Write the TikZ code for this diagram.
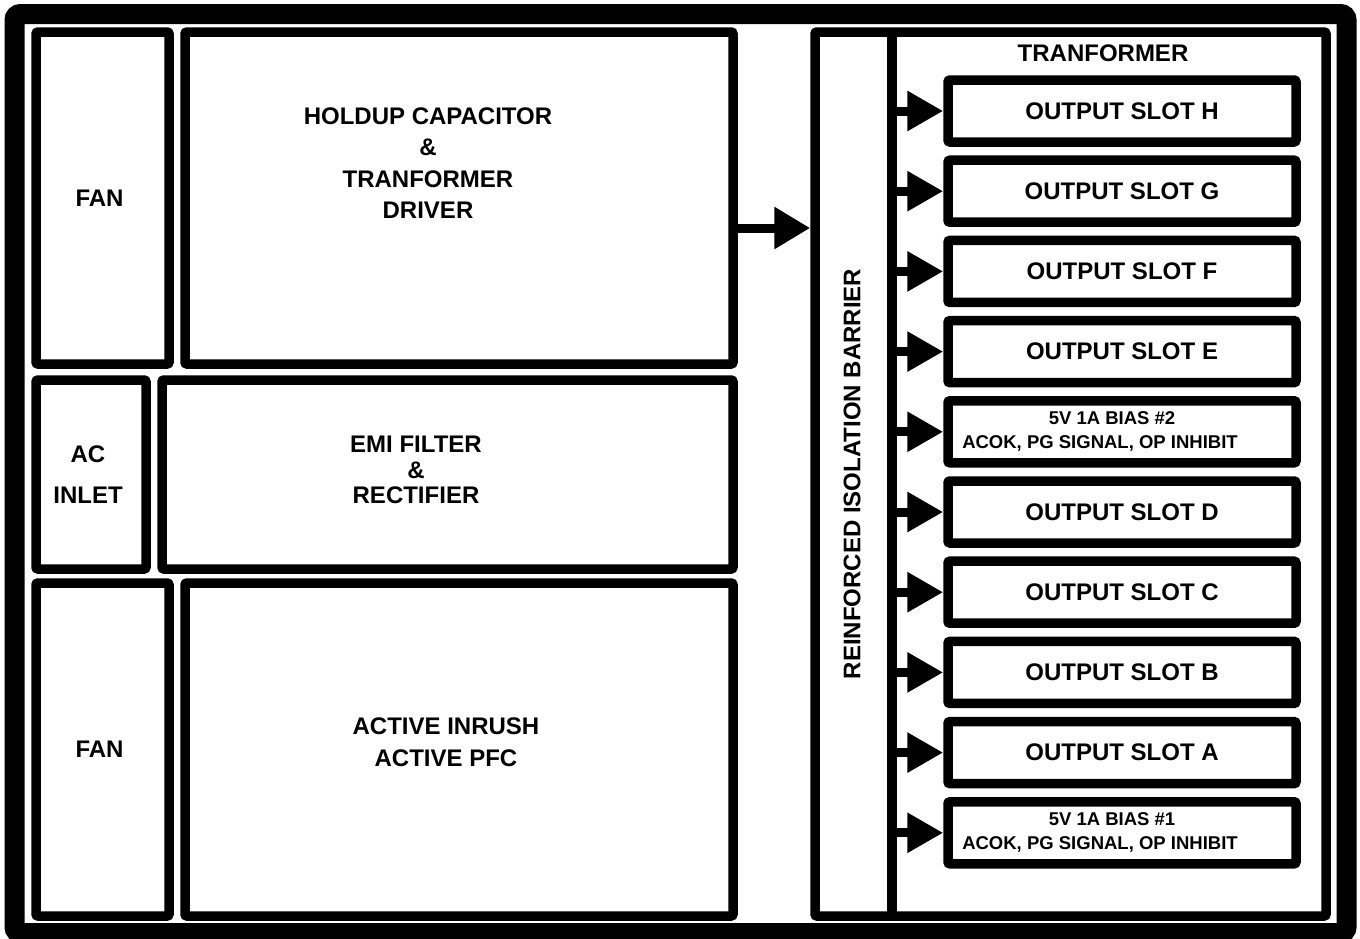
\documentclass[tikz,border=0pt]{standalone}
\usepackage{fontspec}
\setmainfont{Liberation Sans}
\usetikzlibrary{positioning}
\usetikzlibrary{arrows.meta}

\begin{document}
\begin{tikzpicture}[x=1pt,y=-1pt,
  blk/.style={draw,line width=9.5pt,rounded corners=2pt,inner sep=0pt,align=center},
  lbl/.style={align=center,font=\fontsize{24}{31.5}\selectfont\bfseries},
  smalllbl/.style={align=center,font=\fontsize{18.5}{24}\selectfont\bfseries},
  feedarrow/.style={line width=9pt,-{Triangle[length=36pt,width=38pt]}}]
  \useasboundingbox (0,0) rectangle (1360,938);
  \newcommand\drawblock[6]{\node[blk,lbl,minimum width={#4-#2},minimum height={#5-#3}] (#1) at ({(#2+#4)/2},{(#3+#5)/2}) {#6};}

% outer frame
  \draw[line width=20pt,rounded corners=6pt] (14.5,14) rectangle (1346.5,933);

% primary side
  \drawblock{fantop}{36}{32}{169}{364}{FAN\hspace*{6pt}}
  \drawblock{holdup}{185}{32}{733}{364}{}
  \node[lbl] (holduptxt) at (428,163) {HOLDUP CAPACITOR\\\&\\TRANFORMER\\DRIVER};
  \drawblock{acin}{36}{380}{146}{569}{AC\hspace*{6pt}\\[10pt]INLET\hspace*{6pt}}
  \drawblock{emi}{162}{380}{733}{569}{}
  \node[lbl] (emitxt) at (416,470) {EMI FILTER\\[-6pt]\&\\[-6pt]RECTIFIER};
  \drawblock{fanbot}{36}{583}{169}{916}{FAN\hspace*{6pt}}
  \drawblock{pfc}{185}{583}{733}{916}{}
  \node[lbl] (pfctxt) at (446,742) {ACTIVE INRUSH\\ACTIVE PFC};

% barrier and transformer
  \drawblock{xfmr}{815}{32}{1326}{916}{}
  \coordinate (bustop) at (892,32);
  \coordinate (busbot) at (892,916);
  \draw[line width=9.5pt] (bustop) -- (busbot);
  \node[lbl,rotate=90] (barrier) at (852,474) {REINFORCED ISOLATION BARRIER};
  \node[lbl] (xfmrtxt) at (1103,53) {TRANFORMER};
  \coordinate (feed) at ([yshift=-30pt]holdup.east);
  \draw[feedarrow,-{Triangle[length=36pt,width=40pt]}] (feed) -- (feed -| xfmr.west);

% output slots
  \foreach \y/\s in {0/H,1/G,2/F,3/E,5/D,6/C,7/B,8/A}{
    \node[blk,lbl,minimum width=348pt,minimum height=62pt] (slot\s) at (1122,{111+80.2*\y}) {OUTPUT SLOT \s};
    \draw[feedarrow] (slot\s.west -| bustop) -- (slot\s.west);
  }

% bias slots
  \foreach \y/\n in {4/2,9/1}{
    \node[blk,minimum width=348pt,minimum height=62pt] (bias\n) at (1122,{111+80.2*\y}) {};
    \node[smalllbl] (bias\n txt) at ([xshift=-22pt]bias\n.center) {\hspace*{24pt}5V 1A BIAS \#\n\\ACOK, PG SIGNAL, OP INHIBIT};
    \draw[feedarrow] (bias\n.west -| bustop) -- (bias\n.west);
  }

\end{tikzpicture}
\end{document}
